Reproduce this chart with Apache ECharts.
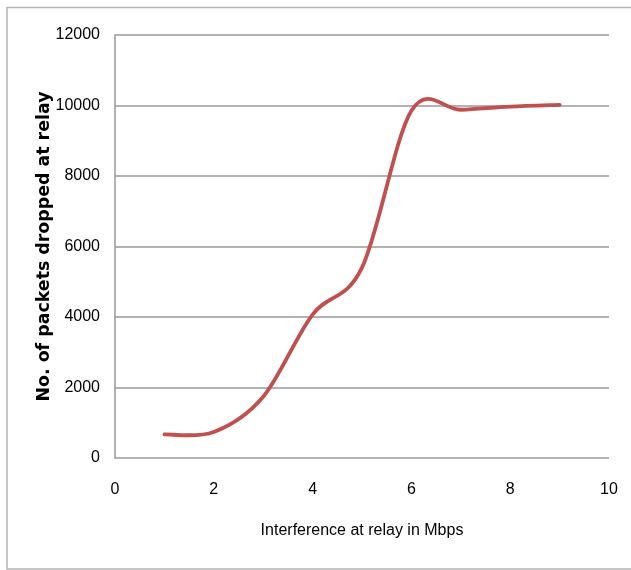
<!DOCTYPE html>
<html><head><meta charset="utf-8">
<script src="https://cdn.jsdelivr.net/npm/echarts@6/dist/echarts.min.js"></script>
<style>html,body{margin:0;padding:0;background:#fff}#c{width:631px;height:570px}</style>
</head><body><div id="c"></div>
<script>
const xValues = [1, 2, 3, 4, 5, 6, 7, 8, 9];
const packetsDropped = [670, 740, 1740, 4070, 5400, 9850, 9880, 9970, 10020];
const xTicks = [0, 2, 4, 6, 8, 10];
const yTicks = [0, 2000, 4000, 6000, 8000, 10000, 12000];

const font = "'Liberation Sans', Arial, sans-serif";
const chart = echarts.init(document.getElementById('c'));

// Excel-style smoothed line (Catmull-Rom -> cubic Bezier) built from axis coordinates
function renderSmooth(params, api) {
  if (params.dataIndex !== 0) return null;
  const p = xValues.map((x, i) => api.coord([x, packetsDropped[i]]));
  const n = p.length;
  let d = 'M' + p[0][0] + ',' + p[0][1];
  for (let i = 0; i < n - 1; i++) {
    const p0 = p[Math.max(i - 1, 0)], p1 = p[i], p2 = p[i + 1], p3 = p[Math.min(i + 2, n - 1)];
    const c1 = [p1[0] + (p2[0] - p0[0]) / 6, p1[1] + (p2[1] - p0[1]) / 6];
    const c2 = [p2[0] - (p3[0] - p1[0]) / 6, p2[1] - (p3[1] - p1[1]) / 6];
    d += 'C' + c1[0] + ',' + c1[1] + ',' + c2[0] + ',' + c2[1] + ',' + p2[0] + ',' + p2[1];
  }
  return {
    type: 'path',
    shape: {pathData: d},
    style: {fill: 'none', stroke: '#c0504d', lineWidth: 3.8, lineCap: 'round', lineJoin: 'round'}
  };
}

chart.setOption({
  animation: false,
  backgroundColor: '#fff',
  graphic: [{
    type: 'rect', silent: true,
    shape: {x: 7, y: 7.5, width: 640, height: 561.5},
    style: {fill: 'none', stroke: '#b4b4b4', lineWidth: 1.5}
  }],
  grid: {left: 115, right: 22, top: 35, bottom: 112},
  xAxis: {
    type: 'value', min: xTicks[0], max: xTicks[xTicks.length - 1], interval: 2,
    name: 'Interference at relay in Mbps', nameLocation: 'middle', nameGap: 65,
    nameMoveOverlap: false,
    nameTextStyle: {fontFamily: font, fontSize: 16, color: '#000'},
    axisLine: {show: false}, axisTick: {show: false},
    axisLabel: {fontFamily: font, fontSize: 16, color: '#000', margin: 24, formatter: v => String(v)},
    splitLine: {show: false}
  },
  yAxis: {
    type: 'value', min: yTicks[0], max: yTicks[yTicks.length - 1], interval: 2000,
    name: 'No. of packets dropped at relay', nameLocation: 'middle', nameGap: 62,
    nameMoveOverlap: false,
    nameTextStyle: {fontFamily: "'DejaVu Sans', sans-serif", fontSize: 17.4, fontWeight: 'bold', color: '#000'},
    axisLine: {show: true, lineStyle: {color: '#999', width: 1.5}}, axisTick: {show: false},
    axisLabel: {fontFamily: font, fontSize: 16, color: '#000', margin: 15, formatter: v => String(v)},
    splitLine: {show: true, lineStyle: {color: '#999', width: 1.5}}
  },
  series: [{
    type: 'custom',
    renderItem: renderSmooth,
    data: xValues.map((x, i) => [x, packetsDropped[i]]),
    encode: {x: 0, y: 1},
    clip: false
  }]
});
</script></body></html>
